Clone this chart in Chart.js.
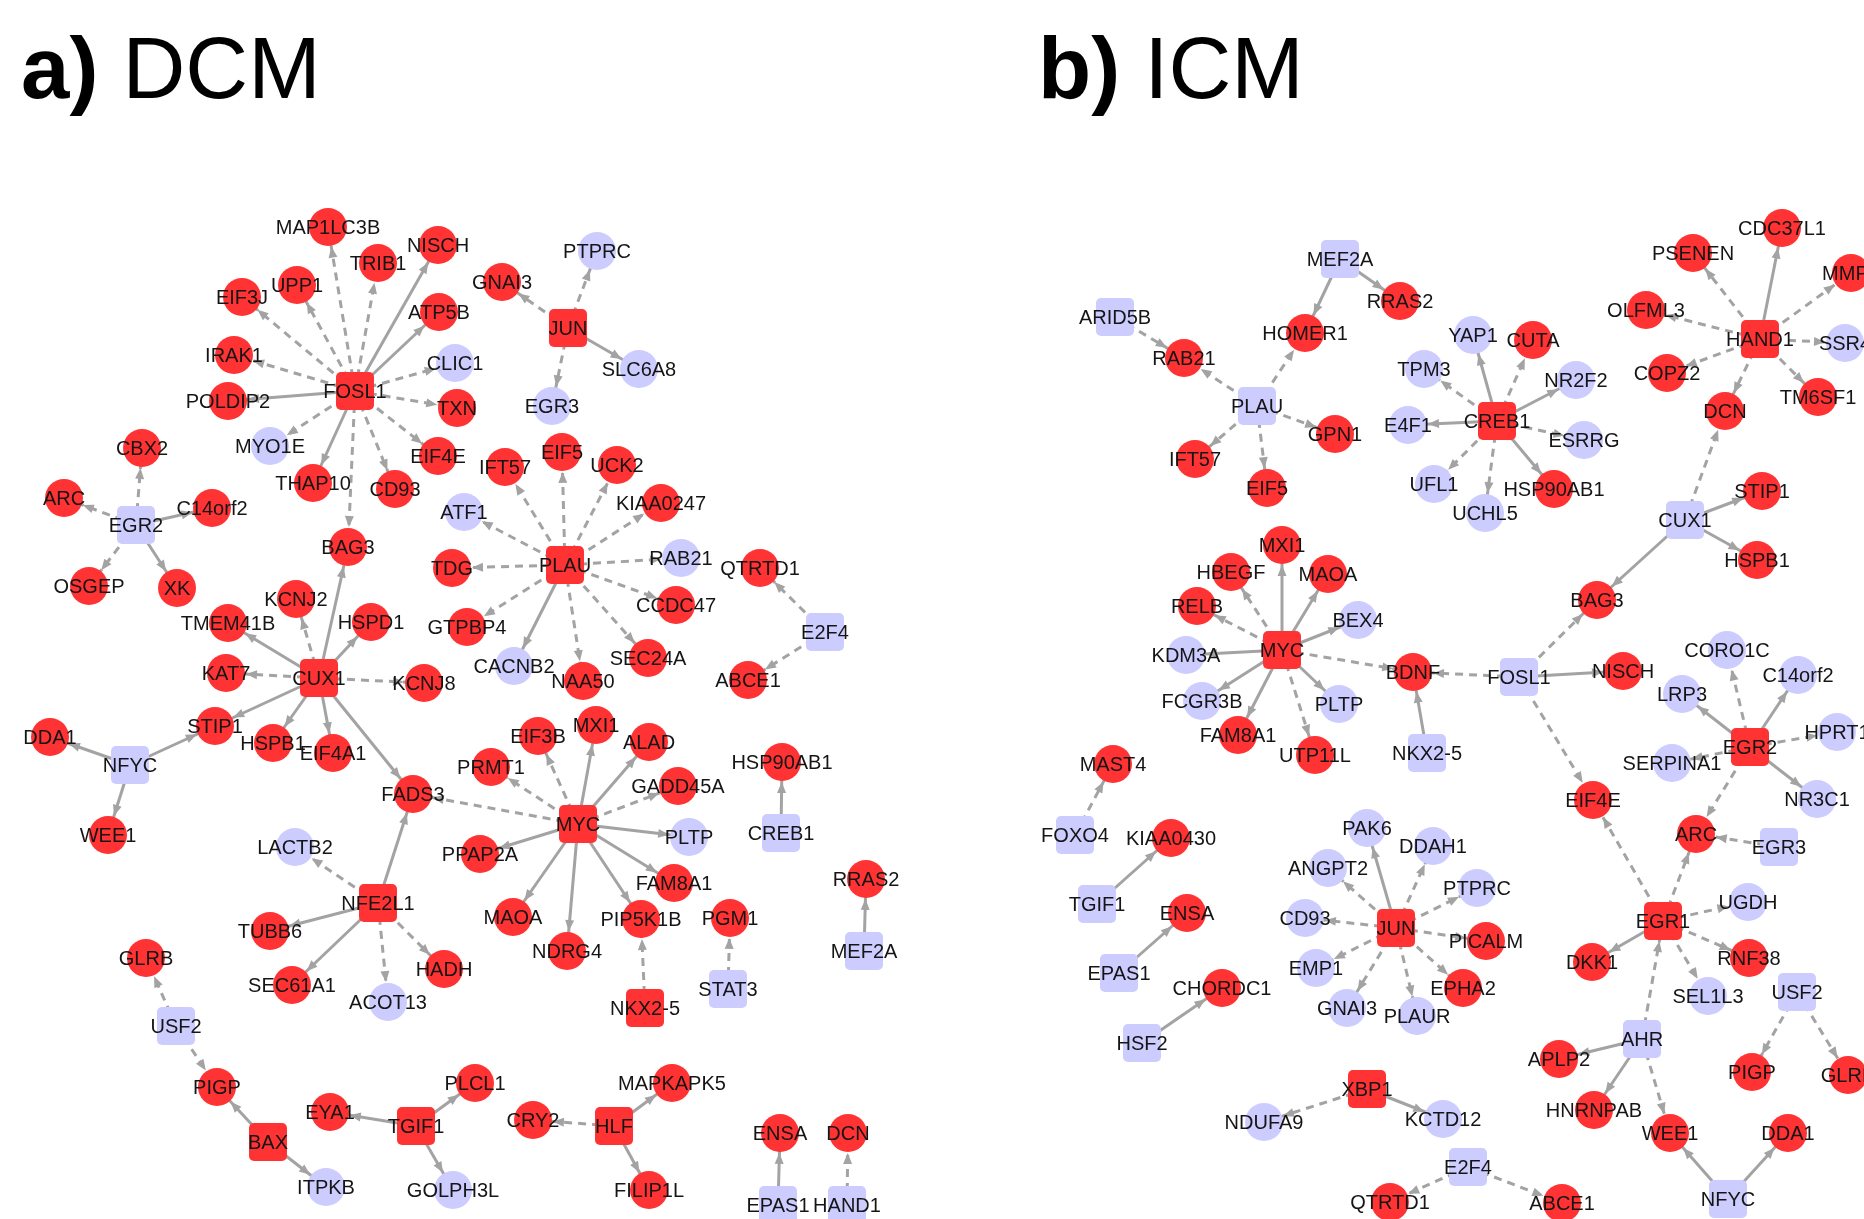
<!DOCTYPE html>
<html>
<head>
<meta charset="utf-8">
<script src="https://cdn.jsdelivr.net/npm/chart.js@4.4.1/dist/chart.umd.min.js"></script>
<style>
  html, body { margin: 0; padding: 0; background: #fff; }
  #wrap { width: 1864px; height: 1219px; position: relative; }
</style>
</head>
<body>
<div id="wrap"><canvas id="net"></canvas></div>
<script>
// node rows: gene, x, y, regulation, role (tf = square)
const dcmNodes = [
  ['MAP1LC3B', 328, 227, 'up', 'gene'], ['TRIB1', 378, 263, 'up', 'gene'], ['NISCH', 438, 245, 'up', 'gene'],
  ['UPP1', 297, 285, 'up', 'gene'], ['EIF3J', 242, 297, 'up', 'gene'], ['ATP5B', 439, 312, 'up', 'gene'],
  ['IRAK1', 234, 355, 'up', 'gene'], ['CLIC1', 455, 363, 'down', 'gene'], ['FOSL1', 355, 391, 'up', 'tf'],
  ['POLDIP2', 228, 401, 'up', 'gene'], ['TXN', 457, 408, 'up', 'gene'], ['MYO1E', 270, 446, 'down', 'gene'],
  ['EIF4E', 438, 456, 'up', 'gene'], ['THAP10', 313, 483, 'up', 'gene'], ['CD93', 395, 489, 'up', 'gene'],
  ['ATF1', 464, 512, 'down', 'gene'], ['CBX2', 142, 448, 'up', 'gene'], ['ARC', 64, 498, 'up', 'gene'],
  ['EGR2', 136, 525, 'down', 'tf'], ['C14orf2', 212, 508, 'up', 'gene'], ['BAG3', 348, 547, 'up', 'gene'],
  ['TDG', 452, 568, 'up', 'gene'], ['OSGEP', 89, 586, 'up', 'gene'], ['XK', 177, 588, 'up', 'gene'],
  ['KCNJ2', 296, 599, 'up', 'gene'], ['PTPRC', 597, 251, 'down', 'gene'], ['GNAI3', 502, 282, 'up', 'gene'],
  ['JUN', 568, 328, 'up', 'tf'], ['SLC6A8', 639, 369, 'down', 'gene'], ['EGR3', 552, 406, 'down', 'gene'],
  ['EIF5', 562, 452, 'up', 'gene'], ['IFT57', 505, 467, 'up', 'gene'], ['UCK2', 617, 465, 'up', 'gene'],
  ['KIAA0247', 661, 503, 'up', 'gene'], ['PLAU', 565, 565, 'up', 'tf'], ['RAB21', 681, 558, 'down', 'gene'],
  ['QTRTD1', 760, 568, 'up', 'gene'], ['CCDC47', 676, 605, 'up', 'gene'], ['GTPBP4', 467, 627, 'up', 'gene'],
  ['CACNB2', 514, 666, 'down', 'gene'], ['NAA50', 583, 681, 'up', 'gene'], ['SEC24A', 648, 658, 'up', 'gene'],
  ['E2F4', 825, 632, 'down', 'tf'], ['ABCE1', 748, 680, 'up', 'gene'], ['TMEM41B', 228, 623, 'up', 'gene'],
  ['HSPD1', 371, 622, 'up', 'gene'], ['KAT7', 226, 673, 'up', 'gene'], ['CUX1', 319, 678, 'up', 'tf'],
  ['KCNJ8', 424, 683, 'up', 'gene'], ['STIP1', 215, 726, 'up', 'gene'], ['HSPB1', 273, 743, 'up', 'gene'],
  ['EIF4A1', 333, 753, 'up', 'gene'], ['DDA1', 50, 737, 'up', 'gene'], ['NFYC', 130, 765, 'down', 'tf'],
  ['FADS3', 413, 794, 'up', 'gene'], ['WEE1', 108, 835, 'up', 'gene'], ['LACTB2', 295, 847, 'down', 'gene'],
  ['NFE2L1', 378, 903, 'up', 'tf'], ['TUBB6', 270, 931, 'up', 'gene'], ['HADH', 444, 969, 'up', 'gene'],
  ['GLRB', 146, 958, 'up', 'gene'], ['SEC61A1', 292, 985, 'up', 'gene'], ['ACOT13', 388, 1002, 'down', 'gene'],
  ['MXI1', 596, 725, 'up', 'gene'], ['EIF3B', 538, 736, 'up', 'gene'], ['ALAD', 649, 742, 'up', 'gene'],
  ['PRMT1', 491, 767, 'up', 'gene'], ['HSP90AB1', 782, 762, 'up', 'gene'], ['GADD45A', 678, 786, 'up', 'gene'],
  ['MYC', 578, 824, 'up', 'tf'], ['PLTP', 689, 837, 'down', 'gene'], ['CREB1', 781, 833, 'down', 'tf'],
  ['PPAP2A', 480, 854, 'up', 'gene'], ['RRAS2', 866, 879, 'up', 'gene'], ['FAM8A1', 674, 883, 'up', 'gene'],
  ['MAOA', 513, 917, 'up', 'gene'], ['PIP5K1B', 641, 919, 'up', 'gene'], ['PGM1', 730, 918, 'up', 'gene'],
  ['NDRG4', 567, 951, 'up', 'gene'], ['MEF2A', 864, 951, 'down', 'tf'], ['STAT3', 728, 989, 'down', 'tf'],
  ['NKX2-5', 645, 1008, 'up', 'tf'], ['USF2', 176, 1026, 'down', 'tf'], ['PIGP', 217, 1087, 'up', 'gene'],
  ['BAX', 268, 1142, 'up', 'tf'], ['EYA1', 330, 1112, 'up', 'gene'], ['TGIF1', 416, 1126, 'up', 'tf'],
  ['ITPKB', 326, 1187, 'down', 'gene'], ['GOLPH3L', 453, 1190, 'down', 'gene'], ['PLCL1', 475, 1083, 'up', 'gene'],
  ['MAPKAPK5', 672, 1083, 'up', 'gene'], ['CRY2', 533, 1120, 'up', 'gene'], ['HLF', 614, 1126, 'up', 'tf'],
  ['FILIP1L', 649, 1190, 'up', 'gene'], ['ENSA', 780, 1133, 'up', 'gene'], ['DCN', 848, 1133, 'up', 'gene'],
  ['EPAS1', 778, 1205, 'down', 'tf'], ['HAND1', 847, 1205, 'down', 'tf']
];

const dcmEdges = [
  ['FOSL1', 'MAP1LC3B', 'dashed'], ['FOSL1', 'TRIB1', 'dashed'], ['FOSL1', 'NISCH', 'solid'],
  ['FOSL1', 'UPP1', 'dashed'], ['FOSL1', 'EIF3J', 'dashed'], ['FOSL1', 'ATP5B', 'solid'],
  ['FOSL1', 'IRAK1', 'dashed'], ['FOSL1', 'CLIC1', 'dashed'], ['FOSL1', 'POLDIP2', 'solid'],
  ['FOSL1', 'TXN', 'dashed'], ['FOSL1', 'MYO1E', 'dashed'], ['FOSL1', 'EIF4E', 'dashed'],
  ['FOSL1', 'THAP10', 'solid'], ['FOSL1', 'CD93', 'dashed'], ['FOSL1', 'BAG3', 'dashed'],
  ['EGR2', 'CBX2', 'dashed'], ['EGR2', 'ARC', 'dashed'], ['EGR2', 'C14orf2', 'solid'],
  ['EGR2', 'OSGEP', 'dashed'], ['EGR2', 'XK', 'solid'],
  ['JUN', 'GNAI3', 'dashed'], ['JUN', 'PTPRC', 'dashed'], ['JUN', 'SLC6A8', 'solid'], ['JUN', 'EGR3', 'dashed'],
  ['PLAU', 'IFT57', 'dashed'], ['PLAU', 'EIF5', 'dashed'], ['PLAU', 'UCK2', 'dashed'],
  ['PLAU', 'KIAA0247', 'dashed'], ['PLAU', 'ATF1', 'dashed'], ['PLAU', 'TDG', 'dashed'],
  ['PLAU', 'RAB21', 'dashed'], ['PLAU', 'CCDC47', 'dashed'], ['PLAU', 'GTPBP4', 'dashed'],
  ['PLAU', 'CACNB2', 'solid'], ['PLAU', 'NAA50', 'dashed'], ['PLAU', 'SEC24A', 'dashed'],
  ['E2F4', 'QTRTD1', 'dashed'], ['E2F4', 'ABCE1', 'dashed'],
  ['CUX1', 'BAG3', 'solid'], ['CUX1', 'KCNJ2', 'dashed'], ['CUX1', 'TMEM41B', 'solid'],
  ['CUX1', 'HSPD1', 'solid'], ['CUX1', 'KAT7', 'dashed'], ['CUX1', 'KCNJ8', 'dashed'],
  ['CUX1', 'STIP1', 'solid'], ['CUX1', 'HSPB1', 'solid'], ['CUX1', 'EIF4A1', 'solid'], ['CUX1', 'FADS3', 'solid'],
  ['NFYC', 'DDA1', 'solid'], ['NFYC', 'STIP1', 'solid'], ['NFYC', 'WEE1', 'solid'],
  ['MYC', 'FADS3', 'dashed'], ['MYC', 'PRMT1', 'dashed'], ['MYC', 'EIF3B', 'dashed'],
  ['MYC', 'MXI1', 'solid'], ['MYC', 'ALAD', 'solid'], ['MYC', 'GADD45A', 'dashed'],
  ['MYC', 'PLTP', 'solid'], ['MYC', 'PPAP2A', 'solid'], ['MYC', 'FAM8A1', 'solid'],
  ['MYC', 'MAOA', 'solid'], ['MYC', 'NDRG4', 'solid'], ['MYC', 'PIP5K1B', 'solid'],
  ['NKX2-5', 'PIP5K1B', 'dashed'], ['CREB1', 'HSP90AB1', 'solid'], ['MEF2A', 'RRAS2', 'solid'],
  ['STAT3', 'PGM1', 'dashed'],
  ['NFE2L1', 'FADS3', 'solid'], ['NFE2L1', 'LACTB2', 'dashed'], ['NFE2L1', 'TUBB6', 'solid'],
  ['NFE2L1', 'HADH', 'dashed'], ['NFE2L1', 'SEC61A1', 'solid'], ['NFE2L1', 'ACOT13', 'dashed'],
  ['USF2', 'GLRB', 'dashed'], ['USF2', 'PIGP', 'dashed'], ['BAX', 'PIGP', 'solid'], ['BAX', 'ITPKB', 'solid'],
  ['TGIF1', 'EYA1', 'solid'], ['TGIF1', 'PLCL1', 'solid'], ['TGIF1', 'GOLPH3L', 'solid'],
  ['HLF', 'CRY2', 'dashed'], ['HLF', 'MAPKAPK5', 'solid'], ['HLF', 'FILIP1L', 'solid'],
  ['EPAS1', 'ENSA', 'solid'], ['HAND1', 'DCN', 'dashed']
];

const icmNodes = [
  ['MEF2A', 1340, 259, 'down', 'tf'], ['RRAS2', 1400, 301, 'up', 'gene'], ['ARID5B', 1115, 317, 'down', 'tf'],
  ['HOMER1', 1305, 333, 'up', 'gene'], ['RAB21', 1184, 358, 'up', 'gene'], ['TPM3', 1424, 369, 'down', 'gene'],
  ['PLAU', 1257, 406, 'down', 'tf'], ['E4F1', 1408, 425, 'down', 'gene'], ['GPN1', 1335, 434, 'up', 'gene'],
  ['IFT57', 1195, 459, 'up', 'gene'], ['EIF5', 1267, 488, 'up', 'gene'], ['UFL1', 1434, 484, 'down', 'gene'],
  ['MXI1', 1282, 545, 'up', 'gene'], ['HBEGF', 1231, 572, 'up', 'gene'], ['MAOA', 1328, 574, 'up', 'gene'],
  ['RELB', 1197, 606, 'up', 'gene'], ['CDC37L1', 1782, 228, 'up', 'gene'], ['PSENEN', 1693, 253, 'up', 'gene'],
  ['MMP2', 1851, 273, 'up', 'gene'], ['OLFML3', 1646, 310, 'up', 'gene'], ['YAP1', 1473, 335, 'down', 'gene'],
  ['CUTA', 1533, 340, 'up', 'gene'], ['HAND1', 1760, 339, 'up', 'tf'], ['SSR4', 1845, 343, 'down', 'gene'],
  ['COPZ2', 1667, 373, 'up', 'gene'], ['NR2F2', 1576, 380, 'down', 'gene'], ['TM6SF1', 1818, 397, 'up', 'gene'],
  ['DCN', 1725, 411, 'up', 'gene'], ['CREB1', 1497, 421, 'up', 'tf'], ['ESRRG', 1584, 440, 'down', 'gene'],
  ['HSP90AB1', 1554, 489, 'up', 'gene'], ['STIP1', 1762, 491, 'up', 'gene'], ['UCHL5', 1485, 513, 'down', 'gene'],
  ['CUX1', 1685, 520, 'down', 'tf'], ['HSPB1', 1757, 560, 'up', 'gene'], ['BAG3', 1597, 600, 'up', 'gene'],
  ['BEX4', 1358, 620, 'down', 'gene'], ['MYC', 1282, 650, 'up', 'tf'], ['KDM3A', 1186, 655, 'down', 'gene'],
  ['BDNF', 1413, 672, 'up', 'gene'], ['FCGR3B', 1202, 701, 'down', 'gene'], ['PLTP', 1339, 704, 'down', 'gene'],
  ['FAM8A1', 1238, 735, 'up', 'gene'], ['UTP11L', 1315, 755, 'up', 'gene'], ['NKX2-5', 1427, 753, 'down', 'tf'],
  ['MAST4', 1113, 764, 'up', 'gene'], ['FOXO4', 1075, 835, 'down', 'tf'], ['KIAA0430', 1171, 838, 'up', 'gene'],
  ['PAK6', 1367, 828, 'down', 'gene'], ['DDAH1', 1433, 846, 'down', 'gene'], ['ANGPT2', 1328, 868, 'down', 'gene'],
  ['TGIF1', 1097, 904, 'down', 'tf'], ['ENSA', 1187, 913, 'up', 'gene'], ['CD93', 1305, 918, 'down', 'gene'],
  ['JUN', 1396, 928, 'up', 'tf'], ['EMP1', 1316, 968, 'down', 'gene'], ['EPAS1', 1119, 973, 'down', 'tf'],
  ['CHORDC1', 1222, 988, 'up', 'gene'], ['PTPRC', 1477, 888, 'down', 'gene'], ['PICALM', 1486, 941, 'up', 'gene'],
  ['EPHA2', 1463, 988, 'up', 'gene'], ['GNAI3', 1347, 1008, 'down', 'gene'], ['PLAUR', 1417, 1016, 'down', 'gene'],
  ['HSF2', 1142, 1043, 'down', 'tf'], ['XBP1', 1367, 1089, 'up', 'tf'], ['NDUFA9', 1264, 1122, 'down', 'gene'],
  ['KCTD12', 1443, 1119, 'down', 'gene'], ['E2F4', 1468, 1167, 'down', 'tf'], ['QTRTD1', 1390, 1202, 'up', 'gene'],
  ['FOSL1', 1519, 677, 'down', 'tf'], ['NISCH', 1623, 671, 'up', 'gene'], ['CORO1C', 1727, 650, 'down', 'gene'],
  ['C14orf2', 1798, 675, 'down', 'gene'], ['LRP3', 1682, 694, 'down', 'gene'], ['HPRT1', 1837, 732, 'down', 'gene'],
  ['EGR2', 1750, 747, 'up', 'tf'], ['SERPINA1', 1672, 763, 'down', 'gene'], ['EIF4E', 1593, 800, 'up', 'gene'],
  ['NR3C1', 1817, 799, 'down', 'gene'], ['ARC', 1696, 834, 'up', 'gene'], ['EGR3', 1779, 847, 'down', 'tf'],
  ['UGDH', 1748, 902, 'down', 'gene'], ['EGR1', 1663, 921, 'up', 'tf'], ['DKK1', 1592, 962, 'up', 'gene'],
  ['RNF38', 1749, 958, 'up', 'gene'], ['SEL1L3', 1708, 996, 'down', 'gene'], ['USF2', 1797, 992, 'down', 'tf'],
  ['AHR', 1642, 1039, 'down', 'tf'], ['APLP2', 1559, 1059, 'up', 'gene'], ['PIGP', 1752, 1072, 'up', 'gene'],
  ['GLRB', 1848, 1075, 'up', 'gene'], ['HNRNPAB', 1594, 1110, 'up', 'gene'], ['WEE1', 1670, 1133, 'up', 'gene'],
  ['DDA1', 1788, 1133, 'up', 'gene'], ['ABCE1', 1562, 1203, 'up', 'gene'], ['NFYC', 1728, 1199, 'down', 'tf']
];

const icmEdges = [
  ['MEF2A', 'HOMER1', 'solid'], ['MEF2A', 'RRAS2', 'solid'], ['ARID5B', 'RAB21', 'dashed'],
  ['PLAU', 'RAB21', 'dashed'], ['PLAU', 'HOMER1', 'dashed'], ['PLAU', 'GPN1', 'dashed'],
  ['PLAU', 'IFT57', 'dashed'], ['PLAU', 'EIF5', 'dashed'],
  ['CREB1', 'TPM3', 'dashed'], ['CREB1', 'YAP1', 'solid'], ['CREB1', 'CUTA', 'dashed'],
  ['CREB1', 'NR2F2', 'solid'], ['CREB1', 'E4F1', 'solid'], ['CREB1', 'ESRRG', 'dashed'],
  ['CREB1', 'UFL1', 'dashed'], ['CREB1', 'UCHL5', 'dashed'], ['CREB1', 'HSP90AB1', 'solid'],
  ['HAND1', 'PSENEN', 'dashed'], ['HAND1', 'CDC37L1', 'solid'], ['HAND1', 'MMP2', 'dashed'],
  ['HAND1', 'OLFML3', 'dashed'], ['HAND1', 'SSR4', 'dashed'], ['HAND1', 'COPZ2', 'dashed'],
  ['HAND1', 'TM6SF1', 'dashed'], ['HAND1', 'DCN', 'dashed'],
  ['CUX1', 'DCN', 'dashed'], ['CUX1', 'STIP1', 'solid'], ['CUX1', 'HSPB1', 'solid'], ['CUX1', 'BAG3', 'solid'],
  ['FOSL1', 'BAG3', 'dashed'], ['FOSL1', 'NISCH', 'solid'], ['FOSL1', 'BDNF', 'dashed'], ['FOSL1', 'EIF4E', 'dashed'],
  ['MYC', 'MXI1', 'solid'], ['MYC', 'HBEGF', 'dashed'], ['MYC', 'MAOA', 'solid'], ['MYC', 'RELB', 'dashed'],
  ['MYC', 'BEX4', 'solid'], ['MYC', 'KDM3A', 'solid'], ['MYC', 'FCGR3B', 'solid'], ['MYC', 'FAM8A1', 'solid'],
  ['MYC', 'UTP11L', 'dashed'], ['MYC', 'PLTP', 'solid'], ['MYC', 'BDNF', 'dashed'],
  ['NKX2-5', 'BDNF', 'solid'], ['FOXO4', 'MAST4', 'dashed'], ['TGIF1', 'KIAA0430', 'solid'],
  ['EPAS1', 'ENSA', 'solid'], ['HSF2', 'CHORDC1', 'solid'],
  ['JUN', 'PAK6', 'solid'], ['JUN', 'DDAH1', 'dashed'], ['JUN', 'ANGPT2', 'dashed'], ['JUN', 'PTPRC', 'dashed'],
  ['JUN', 'CD93', 'dashed'], ['JUN', 'PICALM', 'dashed'], ['JUN', 'EMP1', 'dashed'], ['JUN', 'GNAI3', 'dashed'],
  ['JUN', 'PLAUR', 'dashed'], ['JUN', 'EPHA2', 'dashed'],
  ['EGR2', 'CORO1C', 'dashed'], ['EGR2', 'C14orf2', 'solid'], ['EGR2', 'LRP3', 'solid'],
  ['EGR2', 'HPRT1', 'dashed'], ['EGR2', 'SERPINA1', 'dashed'], ['EGR2', 'NR3C1', 'solid'], ['EGR2', 'ARC', 'dashed'],
  ['EGR3', 'ARC', 'dashed'],
  ['EGR1', 'EIF4E', 'dashed'], ['EGR1', 'ARC', 'dashed'], ['EGR1', 'UGDH', 'dashed'], ['EGR1', 'DKK1', 'solid'],
  ['EGR1', 'RNF38', 'dashed'], ['EGR1', 'SEL1L3', 'dashed'],
  ['AHR', 'EGR1', 'dashed'], ['AHR', 'APLP2', 'solid'], ['AHR', 'HNRNPAB', 'solid'], ['AHR', 'WEE1', 'dashed'],
  ['USF2', 'PIGP', 'dashed'], ['USF2', 'GLRB', 'dashed'], ['NFYC', 'WEE1', 'solid'], ['NFYC', 'DDA1', 'solid'],
  ['XBP1', 'NDUFA9', 'dashed'], ['XBP1', 'KCTD12', 'solid'],
  ['E2F4', 'QTRTD1', 'dashed'], ['E2F4', 'ABCE1', 'dashed']
];

const panelTitles = [['a)', 'DCM'], ['b)', 'ICM']];

const RED = '#ff3333';
const LAV = '#ccccff';
const EDGE = '#a3a3a3';
const NODE_R = 19;

function squareIcon(color) {
    const c = document.createElement('canvas');
    c.width = 40; c.height = 40;
    const g = c.getContext('2d');
    const r = 5, x0 = 1, y0 = 1, s = 38;
    g.fillStyle = color;
    g.beginPath();
    g.moveTo(x0 + r, y0);
    g.arcTo(x0 + s, y0, x0 + s, y0 + s, r);
    g.arcTo(x0 + s, y0 + s, x0, y0 + s, r);
    g.arcTo(x0, y0 + s, x0, y0, r);
    g.arcTo(x0, y0, x0 + s, y0, r);
    g.closePath();
    g.fill();
    return c;
}
const redSquare = squareIcon(RED);
const lavSquare = squareIcon(LAV);

const panels = [[dcmNodes, dcmEdges], [icmNodes, icmEdges]];

function lookup(nodes) {
    const pos = {};
    nodes.forEach(n => { pos[n[0]] = { x: n[1], y: n[2], tf: n[4] === 'tf' }; });
    return pos;
}

const datasets = [];
panels.forEach(([nodes, edges]) => {
    const pos = lookup(nodes);
    edges.forEach(e => {
        datasets.push({
            data: [{ x: pos[e[0]].x, y: pos[e[0]].y }, { x: pos[e[1]].x, y: pos[e[1]].y }],
            showLine: true,
            borderColor: EDGE,
            borderWidth: 3,
            borderDash: e[2] === 'dashed' ? [8, 6] : [],
            pointRadius: 0,
            order: 2
        });
    });
    datasets.push({
        data: nodes.map(n => ({ x: n[1], y: n[2] })),
        pointStyle: nodes.map(n => n[4] === 'tf' ? (n[3] === 'up' ? redSquare : lavSquare) : 'circle'),
        pointBackgroundColor: nodes.map(n => n[3] === 'up' ? RED : LAV),
        pointBorderWidth: 0,
        pointRadius: NODE_R,
        order: 1
    });
});

const networkPlugin = {
    id: 'network',
    afterDatasetsDraw(chart) {
        const { ctx, scales: { x, y } } = chart;
        ctx.save();

        // arrowheads at the target end of each edge
        ctx.fillStyle = EDGE;
        panels.forEach(([nodes, edges]) => {
            const pos = lookup(nodes);
            edges.forEach(e => {
                const s = pos[e[0]], t = pos[e[1]];
                const sx = x.getPixelForValue(s.x), sy = y.getPixelForValue(s.y);
                const tx = x.getPixelForValue(t.x), ty = y.getPixelForValue(t.y);
                const len = Math.hypot(tx - sx, ty - sy);
                const ux = (tx - sx) / len, uy = (ty - sy) / len;
                const gap = t.tf ? NODE_R / Math.max(Math.abs(ux), Math.abs(uy)) + 1 : NODE_R + 1;
                const px = tx - ux * gap, py = ty - uy * gap;
                const bx = px - ux * 11, by = py - uy * 11;
                ctx.beginPath();
                ctx.moveTo(px, py);
                ctx.lineTo(bx - uy * 4.5, by + ux * 4.5);
                ctx.lineTo(bx + uy * 4.5, by - ux * 4.5);
                ctx.closePath();
                ctx.fill();
            });
        });

        // gene labels
        ctx.fillStyle = '#151515';
        ctx.font = '20px "Liberation Sans", Arial, sans-serif';
        ctx.textAlign = 'center';
        ctx.textBaseline = 'middle';
        panels.forEach(([nodes]) => {
            nodes.forEach(n => {
                ctx.fillText(n[0], x.getPixelForValue(n[1]), y.getPixelForValue(n[2]) + 1);
            });
        });

        // panel titles
        const titleX = [21, 1038];
        ctx.fillStyle = '#000';
        ctx.textAlign = 'left';
        ctx.textBaseline = 'alphabetic';
        panelTitles.forEach((t, i) => {
            const px = x.getPixelForValue(titleX[i]);
            const py = y.getPixelForValue(98);
            ctx.font = 'bold 87px "Liberation Sans", Arial, sans-serif';
            ctx.fillText(t[0], px, py);
            const w = ctx.measureText(t[0] + ' ').width;
            ctx.font = '87px "Liberation Sans", Arial, sans-serif';
            ctx.fillText(t[1], px + w, py);
        });
        ctx.restore();
    }
};

new Chart(document.getElementById('net'), {
    type: 'scatter',
    data: { datasets: datasets },
    options: {
        responsive: true,
        maintainAspectRatio: false,
        animation: false,
        events: [],
        layout: { padding: 0, autoPadding: false },
        plugins: { legend: { display: false }, tooltip: { enabled: false } },
        scales: {
            x: { type: 'linear', min: 0, max: 1864, display: false },
            y: { type: 'linear', min: 0, max: 1219, reverse: true, display: false }
        }
    },
    plugins: [networkPlugin]
});
</script>
</body>
</html>
